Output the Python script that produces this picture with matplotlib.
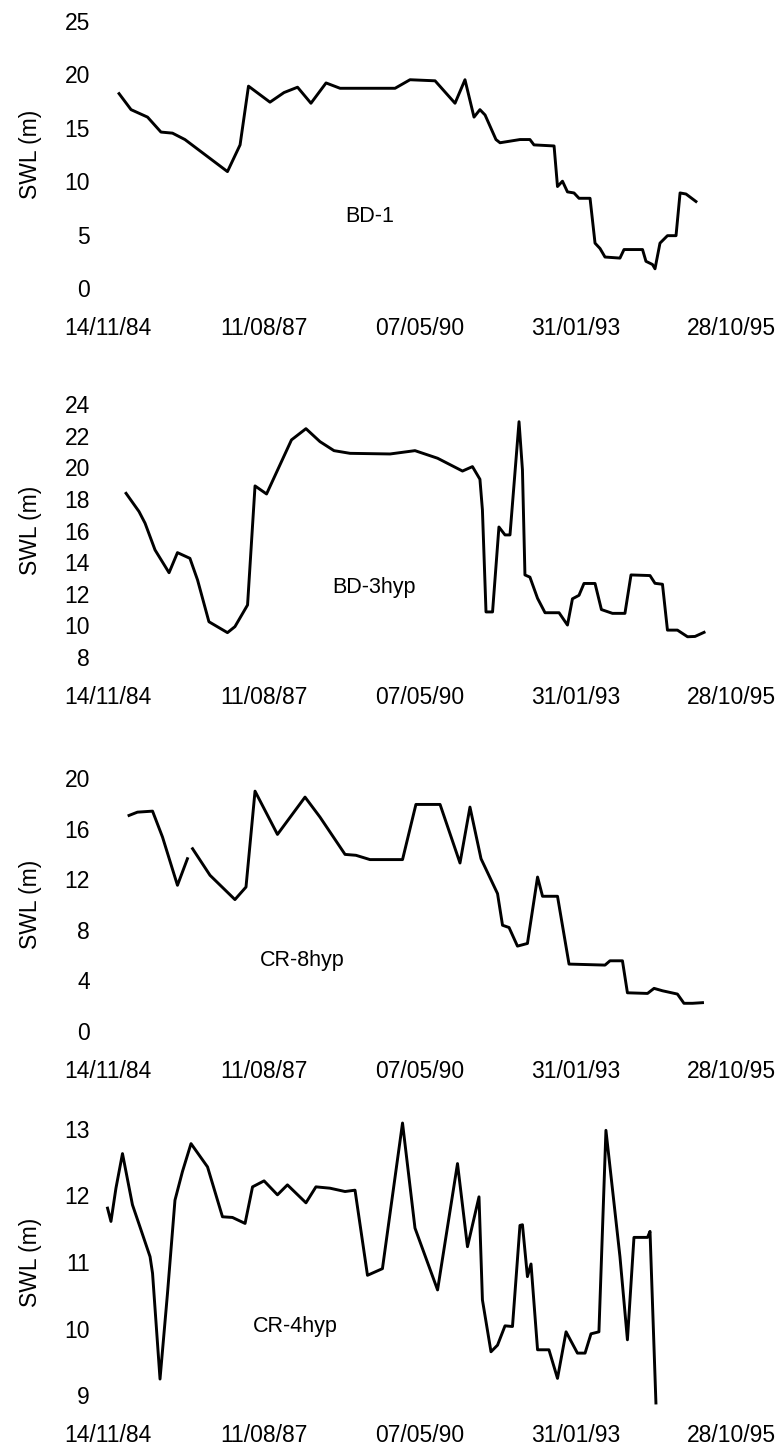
import datetime as dt

import matplotlib
matplotlib.use('Agg')
import matplotlib.pyplot as plt
from matplotlib.ticker import FuncFormatter
import numpy as np

# dates are Excel serial day numbers (31000 = 14/11/84)
bd1_days = [31071, 31148, 31254, 31340, 31414, 31494, 31767, 31848, 31902, 32040,
            32130, 32217, 32303, 32400, 32490, 32843, 32939, 33100, 33228, 33292,
            33350, 33388, 33421, 33491, 33517, 33645, 33709, 33735, 33864, 33886,
            33918, 33950, 33992, 34024, 34095, 34127, 34159, 34191, 34287, 34313,
            34432, 34454, 34496, 34512, 34544, 34592, 34647, 34673, 34711, 34775]
bd1_swl = [18.2, 16.7, 16.0, 14.6, 14.5, 13.9, 10.9, 13.4, 18.9, 17.4,
           18.3, 18.8, 17.3, 19.2, 18.7, 18.7, 19.5, 19.4, 17.3, 19.5,
           16.0, 16.7, 16.2, 13.9, 13.6, 13.9, 13.9, 13.4, 13.3, 9.5,
           10.0, 9.0, 8.9, 8.4, 8.4, 4.2, 3.7, 2.9, 2.8, 3.6,
           3.6, 2.5, 2.2, 1.8, 4.2, 4.9, 4.9, 8.9, 8.8, 8.1]

bd3_days = [31116, 31199, 31238, 31302, 31392, 31446, 31526, 31575, 31648, 31767,
            31815, 31896, 31944, 32018, 32178, 32271, 32361, 32451, 32554, 32811,
            32971, 33116, 33276, 33340, 33388, 33404, 33427, 33469, 33510, 33549,
            33581, 33639, 33661, 33677, 33709, 33758, 33806, 33896, 33950, 33982,
            34024, 34056, 34127, 34168, 34239, 34319, 34358, 34480, 34512, 34560,
            34592, 34656, 34721, 34769, 34827]
bd3_swl = [18.35, 17.2, 16.46, 14.77, 13.33, 14.6, 14.24, 12.87, 10.23, 9.54,
           9.92, 11.29, 18.82, 18.31, 21.73, 22.44, 21.62, 21.05, 20.88, 20.84,
           21.05, 20.57, 19.76, 20.04, 19.24, 17.3, 10.85, 10.85, 16.22, 15.72,
           15.72, 22.88, 19.83, 13.19, 13.05, 11.71, 10.8, 10.8, 10.02, 11.68,
           11.9, 12.65, 12.65, 11.0, 10.76, 10.76, 13.19, 13.15, 12.66, 12.6,
           9.7, 9.7, 9.28, 9.3, 9.56]

# NaN marks the gap in the CR-8hyp record
cr8_days = [31135, 31189, 31286, 31350, 31446, 31510, 31526, 31543, 31655, 31815,
            31886, 31944, 32088, 32265, 32361, 32522, 32592, 32682, 32891, 32977,
            33132, 33260, 33324, 33395, 33501, 33533, 33575, 33629, 33693, 33758,
            33790, 33886, 33960, 34191, 34223, 34303, 34335, 34464, 34506, 34560,
            34656, 34698, 34753, 34817]
cr8_swl = [17.04, 17.3, 17.38, 15.33, 11.52, 13.62, np.nan, 14.41, 12.31, 10.39,
           11.38, 18.96, 15.54, 18.49, 16.91, 13.96, 13.89, 13.55, 13.55, 17.91,
           17.91, 13.28, 17.7, 13.62, 10.86, 8.36, 8.18, 6.71, 6.92, 12.17,
           10.65, 10.65, 5.29, 5.21, 5.55, 5.55, 3.02, 2.97, 3.37, 3.18,
           2.92, 2.19, 2.19, 2.24]

cr4_days = [30997, 31019, 31051, 31093, 31157, 31205, 31270, 31286, 31334, 31382,
            31430, 31478, 31533, 31639, 31735, 31799, 31880, 31928, 32002, 32088,
            32152, 32271, 32335, 32425, 32522, 32586, 32666, 32762, 32891, 32971,
            33116, 33244, 33308, 33382, 33404, 33459, 33501, 33549, 33597, 33645,
            33661, 33693, 33716, 33758, 33831, 33886, 33941, 34014, 34063, 34101,
            34152, 34197, 34287, 34335, 34377, 34464, 34480, 34518]
cr4_swl = [11.81, 11.61, 12.11, 12.63, 11.86, 11.53, 11.08, 10.83, 9.24, 10.53,
           11.93, 12.36, 12.78, 12.43, 11.68, 11.67, 11.58, 12.13, 12.22, 12.01,
           12.16, 11.89, 12.13, 12.11, 12.06, 12.08, 10.8, 10.9, 13.09, 11.51,
           10.58, 12.48, 11.23, 11.98, 10.43, 9.65, 9.75, 10.04, 10.03, 11.55,
           11.56, 10.78, 10.97, 9.68, 9.68, 9.25, 9.95, 9.63, 9.63, 9.92,
           9.95, 12.98, 11.08, 9.83, 11.37, 11.37, 11.46, 8.88]

x_ticks = [31000, 32000, 33000, 34000, 35000]

wells = ['BD-1', 'BD-3hyp', 'CR-8hyp', 'CR-4hyp']
y_ticks = [[0, 5, 10, 15, 20, 25],
           [8, 10, 12, 14, 16, 18, 20, 22, 24],
           [0, 4, 8, 12, 16, 20],
           [9, 10, 11, 12, 13]]


def excel_date(serial, pos=None):
    d = dt.datetime(1899, 12, 30) + dt.timedelta(days=float(serial))
    return d.strftime('%d/%m/%y')


def draw_panel(fig, rect, days, swl, yt, name, label_pos):
    ax = fig.add_axes(rect)
    ax.plot(days, swl, color='black', lw=2.1, clip_on=False)
    ax.set_xlim(x_ticks[0], x_ticks[-1])
    ax.set_ylim(yt[0], yt[-1])
    ax.set_xticks(x_ticks)
    ax.set_yticks(yt)
    ax.xaxis.set_major_formatter(FuncFormatter(excel_date))
    for s in ax.spines.values():
        s.set_visible(False)
    ax.tick_params(axis='x', length=0, pad=21, labelsize=16.5)
    ax.tick_params(axis='y', length=0, pad=13, labelsize=16.5)
    ax.set_ylabel('SWL (m)', fontsize=16.5, labelpad=16)
    ax.text(label_pos[0], label_pos[1], name, transform=ax.transAxes,
            ha='center', va='center', fontsize=15.5)
    return ax


def main():
    plt.rcParams['font.family'] = ['Liberation Sans', 'DejaVu Sans']
    fig = plt.figure(figsize=(7.84, 14.49), dpi=100)

    left, width = 108 / 784, 623 / 784
    H = 1449
    rects = [
        [left, 1 - 288 / H, width, 267 / H],
        [left, 1 - 657 / H, width, 253 / H],
        [left, 1 - 1031 / H, width, 253 / H],
        [left, 1 - 1395 / H, width, 266 / H],
    ]
    series = [(bd1_days, bd1_swl), (bd3_days, bd3_swl),
              (cr8_days, cr8_swl), (cr4_days, cr4_swl)]
    label_pos = [(0.42, 0.266), (0.427, 0.273), (0.311, 0.28), (0.30, 0.256)]

    for rect, (d, v), yt, name, lp in zip(rects, series, y_ticks, wells, label_pos):
        draw_panel(fig, rect, d, v, yt, name, lp)

    fig.savefig('out.png', dpi=100)


if __name__ == "__main__":
    main()
